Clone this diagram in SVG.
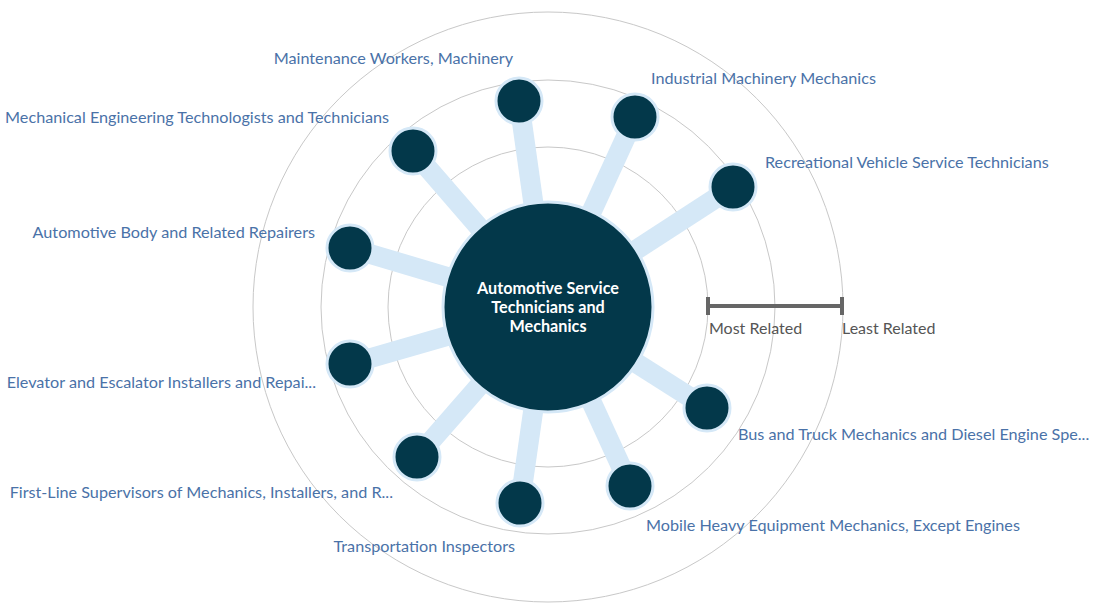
<svg xmlns="http://www.w3.org/2000/svg" width="1107" height="607" viewBox="0 0 1107 607">
<style>
.ring{fill:none;stroke:#c8c8c8;stroke-width:1}
.conn{stroke:#d5e8f7;stroke-width:20;stroke-linecap:butt}
.node{fill:#03384a;stroke:#d5e8f7;stroke-width:3}
.lbl{font-family:Lato,"Open Sans",sans-serif;font-size:16.2px;fill:#4a72a8}
.ctr{font-family:Lato,"Open Sans",sans-serif;font-size:16.2px;font-weight:bold;fill:#ffffff;text-anchor:middle}
.scale{stroke:#666;stroke-width:4;fill:none}
.stxt{font-family:Lato,"Open Sans",sans-serif;font-size:16px;fill:#555}
</style>
<rect width="1107" height="607" fill="#fff"/>
<g id="rings">
<circle class="ring" cx="548" cy="307" r="160"/>
<circle class="ring" cx="548" cy="307" r="227"/>
<circle class="ring" cx="548" cy="307" r="295"/>
</g>
<g id="connectors">
<line class="conn" x1="548" y1="307" x2="519" y2="101"/>
<line class="conn" x1="548" y1="307" x2="635" y2="117"/>
<line class="conn" x1="548" y1="307" x2="733" y2="187"/>
<line class="conn" x1="548" y1="307" x2="707" y2="408"/>
<line class="conn" x1="548" y1="307" x2="630" y2="486"/>
<line class="conn" x1="548" y1="307" x2="520" y2="503"/>
<line class="conn" x1="548" y1="307" x2="417" y2="457"/>
<line class="conn" x1="548" y1="307" x2="350" y2="364"/>
<line class="conn" x1="548" y1="307" x2="350" y2="248"/>
<line class="conn" x1="548" y1="307" x2="413" y2="151"/>
</g>
<g id="center">
<circle cx="548" cy="307" r="105" fill="#03384a" stroke="#d5e8f7" stroke-width="3"/>
<text class="ctr" x="548" y="294">Automotive Service</text>
<text class="ctr" x="548" y="313">Technicians and</text>
<text class="ctr" x="548" y="332">Mechanics</text>
</g>
<g id="n1"><circle class="node" cx="519" cy="101" r="23"/><text class="lbl" x="513" y="64" text-anchor="end">Maintenance Workers, Machinery</text></g>
<g id="n2"><circle class="node" cx="635" cy="117" r="23"/><text class="lbl" x="651" y="84">Industrial Machinery Mechanics</text></g>
<g id="n3"><circle class="node" cx="733" cy="187" r="23"/><text class="lbl" x="765" y="168">Recreational Vehicle Service Technicians</text></g>
<g id="n4"><circle class="node" cx="707" cy="408" r="23"/><text class="lbl" x="738" y="440">Bus and Truck Mechanics and Diesel Engine Spe...</text></g>
<g id="n5"><circle class="node" cx="630" cy="486" r="23"/><text class="lbl" x="646" y="531">Mobile Heavy Equipment Mechanics, Except Engines</text></g>
<g id="n6"><circle class="node" cx="520" cy="503" r="23"/><text class="lbl" x="515" y="552" text-anchor="end">Transportation Inspectors</text></g>
<g id="n7"><circle class="node" cx="417" cy="457" r="23"/><text class="lbl" x="393" y="498" text-anchor="end">First-Line Supervisors of Mechanics, Installers, and R...</text></g>
<g id="n8"><circle class="node" cx="350" cy="364" r="23"/><text class="lbl" x="316" y="388" text-anchor="end">Elevator and Escalator Installers and Repai...</text></g>
<g id="n9"><circle class="node" cx="350" cy="248" r="23"/><text class="lbl" x="315" y="238" text-anchor="end">Automotive Body and Related Repairers</text></g>
<g id="n10"><circle class="node" cx="413" cy="151" r="23"/><text class="lbl" x="389" y="123" text-anchor="end">Mechanical Engineering Technologists and Technicians</text></g>
<g id="scale">
<line class="scale" x1="708" y1="306" x2="842" y2="306"/>
<line class="scale" x1="708" y1="297" x2="708" y2="315"/>
<line class="scale" x1="842" y1="297" x2="842" y2="315"/>
<text class="stxt" x="709" y="334">Most Related</text>
<text class="stxt" x="842" y="334">Least Related</text>
</g>
</svg>
